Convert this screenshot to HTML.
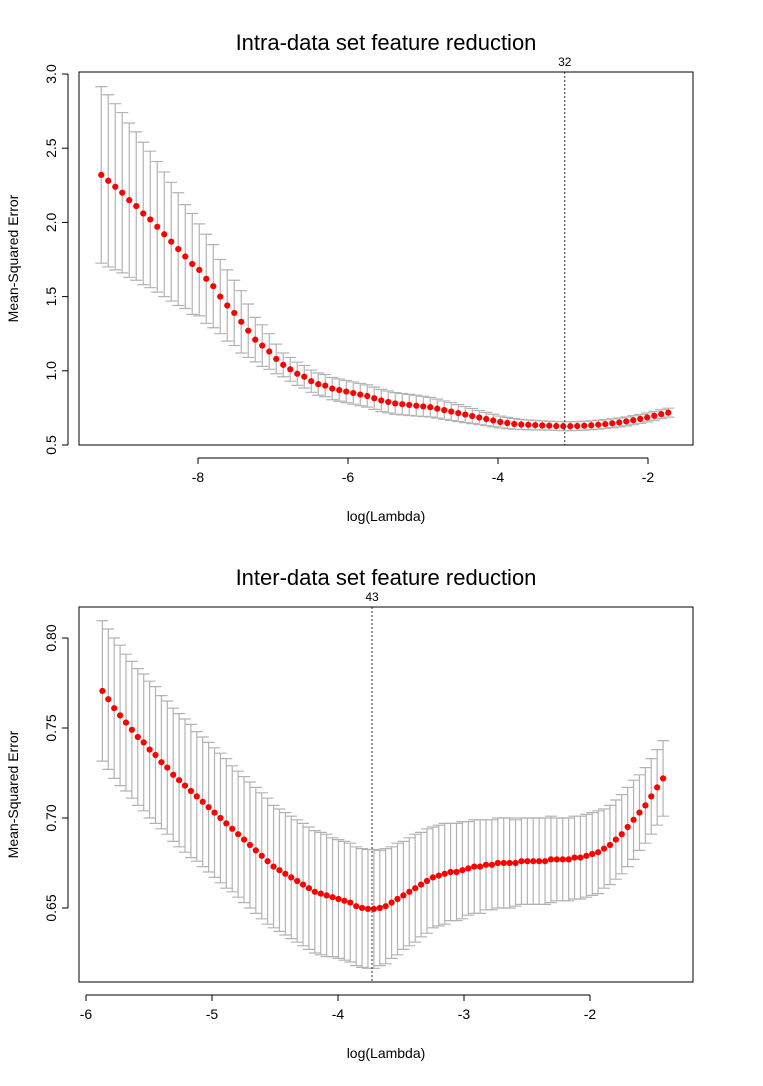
<!DOCTYPE html>
<html><head><meta charset="utf-8"><style>
body{margin:0;background:#fff}
svg{display:block}
text{font-family:"Liberation Sans",sans-serif;fill:#000}
</style></head><body>
<svg id="c" width="763" height="1086"></svg>
<script>
// Top panel data
const topLogLambdaStart = -9.29, topLogLambdaEnd = -1.73;
const topMeans = [2.32,2.28,2.24,2.20,2.15,2.11,2.06,2.02,1.97,1.92,1.87,1.82,1.77,1.72,1.68,1.62,1.57,1.50,1.44,1.39,1.33,1.27,1.21,1.17,1.13,1.08,1.04,1.01,0.98,0.96,0.93,0.91,0.90,0.88,0.87,0.86,0.85,0.84,0.83,0.815,0.80,0.79,0.78,0.775,0.77,0.765,0.76,0.755,0.745,0.735,0.725,0.715,0.705,0.695,0.685,0.675,0.665,0.655,0.648,0.642,0.638,0.636,0.634,0.632,0.63,0.628,0.627,0.627,0.628,0.63,0.633,0.637,0.641,0.646,0.652,0.659,0.667,0.676,0.686,0.697,0.708,0.718];
const topSE = [0.595,0.58,0.56,0.54,0.52,0.5,0.48,0.46,0.44,0.42,0.40,0.38,0.35,0.34,0.31,0.30,0.28,0.25,0.24,0.22,0.21,0.18,0.15,0.14,0.12,0.10,0.08,0.08,0.078,0.076,0.075,0.075,0.075,0.075,0.075,0.075,0.075,0.075,0.075,0.075,0.075,0.074,0.073,0.072,0.071,0.07,0.068,0.066,0.064,0.062,0.06,0.057,0.054,0.051,0.048,0.045,0.042,0.04,0.038,0.036,0.034,0.033,0.032,0.031,0.03,0.03,0.03,0.03,0.03,0.03,0.03,0.03,0.03,0.03,0.03,0.03,0.03,0.03,0.03,0.03,0.03,0.03];
const topYTicks = [0.5,1.0,1.5,2.0,2.5,3.0];
const topXTicks = [-8,-6,-4,-2];
const topVLine = -3.11, topVLabel = "32";
// Bottom panel data
const botLogLambdaStart = -5.87, botLogLambdaEnd = -1.42;
const botMeans = [0.7706,0.766,0.761,0.757,0.753,0.749,0.745,0.742,0.738,0.735,0.731,0.728,0.724,0.721,0.718,0.715,0.712,0.709,0.706,0.703,0.700,0.697,0.694,0.691,0.688,0.685,0.682,0.679,0.676,0.673,0.671,0.669,0.667,0.665,0.663,0.661,0.659,0.658,0.657,0.656,0.655,0.654,0.653,0.651,0.650,0.6495,0.6495,0.650,0.651,0.653,0.655,0.657,0.659,0.661,0.663,0.665,0.667,0.668,0.669,0.670,0.670,0.671,0.672,0.673,0.673,0.674,0.674,0.675,0.675,0.675,0.675,0.676,0.676,0.676,0.676,0.676,0.677,0.677,0.677,0.677,0.678,0.678,0.679,0.680,0.681,0.683,0.685,0.688,0.691,0.695,0.699,0.703,0.707,0.712,0.717,0.722];
const botSE = [0.039,0.039,0.039,0.039,0.038,0.038,0.038,0.038,0.038,0.038,0.037,0.037,0.037,0.037,0.037,0.037,0.036,0.036,0.036,0.036,0.036,0.036,0.035,0.035,0.035,0.035,0.035,0.035,0.035,0.034,0.034,0.034,0.034,0.034,0.034,0.034,0.034,0.034,0.034,0.033,0.033,0.033,0.033,0.033,0.033,0.033,0.033,0.032,0.032,0.031,0.031,0.030,0.030,0.030,0.029,0.029,0.028,0.028,0.028,0.027,0.027,0.027,0.026,0.026,0.026,0.025,0.025,0.025,0.025,0.025,0.024,0.024,0.024,0.024,0.024,0.024,0.024,0.023,0.023,0.023,0.023,0.023,0.023,0.023,0.023,0.022,0.022,0.022,0.022,0.022,0.022,0.021,0.021,0.021,0.021,0.021];
const botYTicks = [0.65,0.70,0.75,0.80];
const botXTicks = [-6,-5,-4,-3,-2];
const botVLine = -3.73, botVLabel = "43";

const NS="http://www.w3.org/2000/svg";
const svg=document.getElementById('c');
function mk(tag,attrs,parent){const e=document.createElementNS(NS,tag);for(const k in attrs)e.setAttribute(k,attrs[k]);(parent||svg).appendChild(e);return e;}

function panel(p){
  const g=mk('g',{});
  
  
  const sx=v=>p.x0+(v-p.xv0)*(p.x1-p.x0)/(p.xv1-p.xv0);
  const sy=v=>p.y0+(v-p.yv0)*(p.y1-p.y0)/(p.yv1-p.yv0);
  const t=mk('text',{x:(p.bx0+p.bx1)/2,y:p.by0-22,'text-anchor':'middle','font-size':'22'},g);
  t.textContent=p.title;
  
  
  const n=p.means.length;
  const bars=mk('g',{stroke:'#b3b3b3','stroke-width':'1.2',fill:'none'},g);
  
  
  const dots=mk('g',{fill:'#ff0000'},g);
  
  
  for(let i=0;i<n;i++){
    const lv=p.l0+(p.l1-p.l0)*i/(n-1);
    const x=sx(lv),m=p.means[i],s=p.se[i];
    const yu=sy(m+s),yl=sy(m-s);
    const b=mk('path',{d:`M${x},${yu}V${yl}M${x-6},${yu}H${x+6}M${x-6},${yl}H${x+6}`},bars);
    
    
    const c=mk('circle',{cx:x,cy:sy(m),r:3.1},dots);
    
    
  }
  const vx=sx(p.vline);
  const vl=mk('line',{x1:vx,x2:vx,y1:p.by0,y2:p.by1,stroke:'#333','stroke-width':'1','stroke-dasharray':'2,2'},g);
  
  
  const vt=mk('text',{x:vx,y:p.by0-6,'text-anchor':'middle','font-size':'12'},g);
  vt.textContent=p.vlabel;
  
  
  const box=mk('rect',{x:p.bx0,y:p.by0,width:p.bx1-p.bx0,height:p.by1-p.by0,fill:'none',stroke:'#000','stroke-width':'1'},g);
  
  
  const ya=mk('g',{},g);
  
  
  const ax=p.bx0-11;
  mk('line',{x1:ax,x2:ax,y1:sy(p.yt[0]),y2:sy(p.yt[p.yt.length-1]),stroke:'#000'},ya);
  p.yt.forEach(v=>{
    const y=sy(v);
    mk('line',{x1:ax-6,x2:ax,y1:y,y2:y,stroke:'#000'},ya);
    const tt=mk('text',{x:ax-12,y:y,'text-anchor':'middle','font-size':'14',transform:`rotate(-90 ${ax-12} ${y})`},ya);
    tt.textContent=v.toFixed(p.ydec);
    
    
  });
  const yt=mk('text',{x:18,y:(p.by0+p.by1)/2,'text-anchor':'middle','font-size':'14',transform:`rotate(-90 18 ${(p.by0+p.by1)/2})`},g);
  yt.textContent='Mean-Squared Error';
  
  
  const xa=mk('g',{},g);
  
  
  const ay=p.by1+13;
  mk('line',{x1:sx(p.xt[0]),x2:sx(p.xt[p.xt.length-1]),y1:ay,y2:ay,stroke:'#000'},xa);
  p.xt.forEach(v=>{
    const x=sx(v);
    mk('line',{x1:x,x2:x,y1:ay,y2:ay+6,stroke:'#000'},xa);
    const tt=mk('text',{x:x,y:ay+24,'text-anchor':'middle','font-size':'14'},xa);
    tt.textContent=String(v);
    
    
  });
  const xt=mk('text',{x:(p.bx0+p.bx1)/2,y:p.by1+76,'text-anchor':'middle','font-size':'14'},g);
  xt.textContent='log(Lambda)';
  
  
}

panel({name:'intra-data-set-panel',title:'Intra-data set feature reduction',bx0:79,bx1:693,by0:72,by1:445,
  x0:198,x1:648,xv0:-8,xv1:-2,y0:445,y1:74,yv0:0.5,yv1:3.0,
  l0:topLogLambdaStart,l1:topLogLambdaEnd,means:topMeans,se:topSE,yt:topYTicks,xt:topXTicks,ydec:1,vline:topVLine,vlabel:topVLabel});
panel({name:'inter-data-set-panel',title:'Inter-data set feature reduction',bx0:79,bx1:693,by0:607,by1:982,
  x0:86,x1:590,xv0:-6,xv1:-2,y0:908,y1:638,yv0:0.65,yv1:0.80,
  l0:botLogLambdaStart,l1:botLogLambdaEnd,means:botMeans,se:botSE,yt:botYTicks,xt:botXTicks,ydec:2,vline:botVLine,vlabel:botVLabel});
</script>
</body></html>
